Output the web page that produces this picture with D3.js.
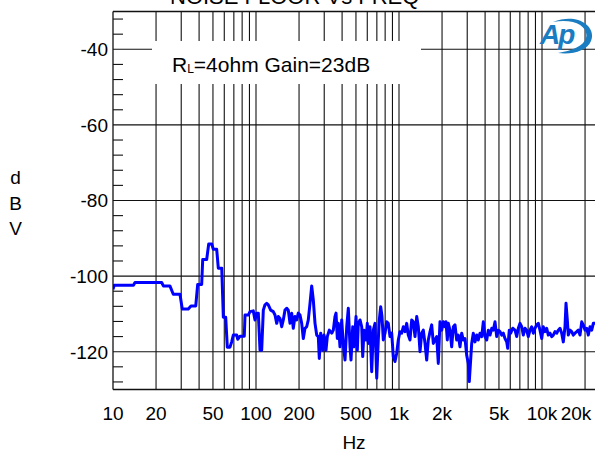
<!DOCTYPE html>
<html><head><meta charset="utf-8">
<script src="https://cdn.jsdelivr.net/npm/d3@7/dist/d3.min.js"></script>
<style>body{margin:0;background:#fff}svg{display:block;font-family:"Liberation Sans",Arial,sans-serif}</style>
</head><body><svg id="c" width="595" height="453"></svg>
<script>
// ---- data ----
const freqHz = [10,10.2,13.9,14.25,21.9,22.5,25.0,26.4,29.4,30.5,33.6,35.1,37.9,39.1,41.7,42.4,45.2,46.7,49.0,50.3,53.1,54.5,57.6,59.1,61.4,63.0,65.8,67.6,69.4,73.3,74.5,77.3,82.8,83.8,88.4,
90.8,95.7,98.4,101.1,103.8,106.7,109.6,112.5,115.6,118.8,121.9,126.7,132.1,135.8,139.6,143.2,147.2,151.3,155.2,159.5,164.0,168.2,172.9,177.7,182.3,187.4,192.6,197.6,203.1,208.7,214.2,220.1,226.2,232.1,238.6,245.2,251.6,258.6,265.8,272.7,277.1,283.4,292.7,298.9,308.7,315.2,325.6,338.4,347.3,356.9,362.7,370.4,376.4,386.8,397.6,408.0,419.3,431.0,442.2,454.5,461.8,474.6,484.6,500.5,511.1,519.4,
533.8,548.6,557.5,569.2,587.9,600.3,610.1,627.0,644.4,661.3,679.6,698.5,716.6,728.3,744.7,760.5,776.6,798.2,820.4,841.8,865.1,889.2,912.3,937.6,963.6,988.8,1016,1044,1072,1102,1132,1161,1194,1227,1259,1294,1330,1365,1403,1441,1479,1520,1562,1603,1648,1693,1738,1785,1835,1883,1935,1989,2041,2097,2132,2177,2212,2273,2336,2398,2464,2532,2598,2670,2744,2816,2893,2974,3052,3101,
3224,3308,3400,3494,3585,3686,3788,3887,3995,4106,4213,4331,4451,4567,4693,4823,4949,5086,5227,5363,5511,5664,5756,5906,6041,6239,6476,6656,6830,7019,7211,7400,7605,7816,8020,8243,8472,8693,8933,9182,9422,9683,9952,10210,10496,10786,11068,11374,11690,11995,12330,12672,13002,13364,13734,14093,14483,14719,15031,15275,15700,16135,16555,17015,17488,17942,18441,18953,19447,19987,20541,21077,21663,22264,22848,23481];
const noiseDbv = [-103.5,-102.4,-102.4,-101.7,-101.7,-102.6,-102.6,-104.8,-104.8,-108.7,-108.7,-107.9,-107.9,-102.2,-102.2,-95.6,-95.6,-91.5,-91.5,-92.9,-92.9,-97.9,-97.9,-110.9,-110.9,-118.8,-118.8,-117.4,-115.6,-115.6,-116.7,-115.9,-115.9,-110.3,-110.3,
-109.4,-109.2,-111.6,-109.8,-109.8,-119.6,-119.6,-109.0,-107.6,-107.2,-107.6,-109.0,-109.4,-110.3,-112.5,-110.7,-111.2,-113.4,-111.6,-109.0,-108.5,-109.0,-112.5,-109.8,-113.8,-110.7,-111.6,-109.8,-110.3,-112.5,-116.5,-113.8,-113.4,-111.6,-107.2,-102.6,-106.3,-112.5,-115.6,-116.0,-121.8,-115.1,-119.6,-115.6,-119.6,-116.0,-114.3,-115.1,-114.3,-110.7,-109.8,-116.5,-112.5,-118.7,-111.6,-118.2,-122.2,-113.4,-108.5,-118.7,-122.2,-113.4,-118.7,-110.7,-119.6,-112.5,
-111.6,-113.4,-121.3,-114.3,-116.9,-112.5,-117.8,-113.4,-125.3,-114.3,-112.5,-127.0,-116.9,-111.6,-108.1,-110.7,-116.9,-115.1,-112.1,-112.5,-116.0,-115.1,-121.3,-122.6,-120.4,-116.9,-114.7,-115.1,-113.4,-114.7,-112.5,-115.6,-116.9,-111.6,-112.1,-116.0,-110.7,-113.4,-120.0,-115.1,-114.3,-117.8,-122.2,-116.9,-114.7,-112.9,-117.8,-116.9,-116.0,-123.1,-112.1,-114.3,-112.1,-113.4,-112.1,-116.9,-112.5,-114.3,-118.7,-113.4,-112.9,-116.9,-115.6,-118.7,-115.1,-116.9,-116.5,-120.9,-123.1,-127.9,
-117.8,-115.1,-117.4,-115.6,-116.9,-115.1,-116.0,-112.1,-116.0,-116.9,-114.3,-115.6,-113.8,-114.3,-112.1,-116.0,-114.3,-114.7,-115.6,-115.1,-116.5,-117.4,-119.1,-114.3,-115.1,-113.8,-114.3,-116.0,-113.8,-112.5,-113.4,-115.6,-113.8,-114.3,-116.0,-114.3,-113.4,-115.1,-113.8,-112.9,-112.5,-114.3,-116.5,-113.4,-114.7,-113.8,-115.6,-115.1,-116.0,-115.6,-114.7,-115.1,-114.3,-113.8,-115.1,-117.4,-113.4,-107.2,-111.6,-115.6,-114.3,-114.7,-115.6,-115.1,-114.7,-114.3,-115.6,-112.1,-112.9,-114.3,-113.8,-115.6,-113.4,-114.3,-112.5,-112.5];
const xTickValues = [10,20,50,100,200,500,1000,2000,5000,10000,20000];
const xTickLabels = ["10","20","50","100","200","500","1k","2k","5k","10k","20k"];
const xGridValues = [20,30,40,50,60,70,80,90,100,200,300,400,500,600,700,800,900,1000,2000,3000,4000,5000,6000,7000,8000,9000,10000,20000];
const yTickValues = [-40,-60,-80,-100,-120];
const yMinorValues = [-32,-36,-44,-48,-52,-56,-64,-68,-72,-76,-84,-88,-92,-96,-104,-108,-112,-116,-124,-128];
const titleText = "NOISE FLOOR Vs FREQ";
const yLabelChars = ["d","B","V"];
const xLabel = "Hz";

// ---- layout ----
const W = 595, H = 453;
const L = 113, T = 11.5, B = 389.5, decade = 143;
const fMin = 10, fMax = 25000;
const R = L + decade * Math.log10(fMax / fMin);
const svg = d3.select("#c");
const x = d3.scaleLog().domain([fMin, fMax]).range([L, R]);
const y = d3.scaleLinear().domain([-130, -30]).range([B, T]);

// title (cut at top)
svg.append("text").attr("x", 170).attr("y", 3.5).attr("font-size", 22).attr("fill", "#000").text(titleText);

// grid
const g = svg.append("g");
g.selectAll(".vg").data(xGridValues).join("line")
  .attr("x1", d => x(d)).attr("x2", d => x(d)).attr("y1", T).attr("y2", B)
  .attr("stroke", "#111").attr("stroke-width", 1.1);
g.selectAll(".hg").data(yTickValues).join("line")
  .attr("x1", L).attr("x2", W).attr("y1", d => y(d)).attr("y2", d => y(d))
  .attr("stroke", "#111").attr("stroke-width", 1.1);
g.selectAll(".mt").data(yMinorValues).join("line")
  .attr("x1", L).attr("x2", L + 10).attr("y1", d => y(d)).attr("y2", d => y(d))
  .attr("stroke", "#111").attr("stroke-width", 1.1);

// legend box
svg.append("rect").attr("x", 152).attr("y", 41).attr("width", 269).attr("height", 43).attr("fill", "#fff");
const lt = svg.append("text").attr("x", 172).attr("y", 72).attr("font-size", 21).attr("fill", "#000");
lt.append("tspan").text("R");
lt.append("tspan").attr("font-size", 12).attr("dy", 1).text("L");
lt.append("tspan").attr("dy", -1).text("=4ohm Gain=23dB");

// Ap logo
const logo = svg.append("g");
logo.append("text").attr("x", 540).attr("y", 44).attr("font-size", 28).attr("font-style", "italic")
  .attr("font-weight", "bold").attr("fill", "#1a7cc1").attr("letter-spacing", -2).text("Ap");
logo.append("path")
  .attr("d", "M553,22 C577,12 597,26 591,41 C587,51 572,55 558,53 C571,51 584,46 586,38 C589,27 575,18 553,22 Z")
  .attr("fill", "#1a7cc1");

// curve
svg.append("clipPath").attr("id", "clip").append("rect").attr("x", L).attr("y", T).attr("width", W - L).attr("height", B - T);
const pts = d3.zip(freqHz, noiseDbv);
svg.append("path").datum(pts).attr("clip-path", "url(#clip)")
  .attr("d", d3.line().x(d => x(d[0])).y(d => y(d[1])))
  .attr("fill", "none").attr("stroke", "#0000ff").attr("stroke-width", 3).attr("stroke-linejoin", "round");

// frame
svg.append("line").attr("x1", L).attr("x2", L).attr("y1", T).attr("y2", B).attr("stroke", "#111").attr("stroke-width", 1.3);
svg.append("line").attr("x1", L).attr("x2", W).attr("y1", T).attr("y2", T).attr("stroke", "#111").attr("stroke-width", 1.3);
svg.append("line").attr("x1", L).attr("x2", W).attr("y1", B).attr("y2", B).attr("stroke", "#111").attr("stroke-width", 1.3);

// y tick labels
svg.selectAll(".yl").data(yTickValues).join("text")
  .attr("x", 108).attr("y", d => y(d)).attr("dy", "0.36em").attr("text-anchor", "end")
  .attr("font-size", 19).text(d => d);
// x tick labels
svg.selectAll(".xl").data(xTickValues).join("text")
  .attr("x", (d, i) => x(d) + (i === xTickValues.length - 1 ? -9 : 0)).attr("y", 420).attr("text-anchor", "middle")
  .attr("font-size", 19).text((d, i) => xTickLabels[i]);
// axis labels
svg.selectAll(".yc").data(yLabelChars).join("text")
  .attr("x", 15.5).attr("y", (d, i) => 184 + i * 25.5).attr("text-anchor", "middle").attr("font-size", 19).text(d => d);
svg.append("text").attr("x", 354).attr("y", 449).attr("text-anchor", "middle").attr("font-size", 19).text(xLabel);
</script></body></html>
